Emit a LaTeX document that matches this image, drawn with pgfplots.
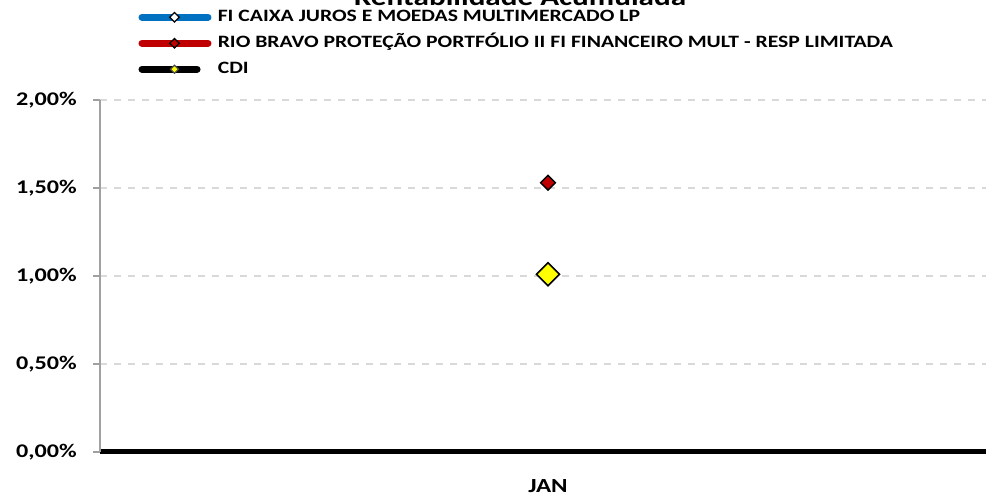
\documentclass[border=0pt]{standalone}
\usepackage{fontspec}
\setmainfont{Carlito}[FakeStretch=1.25]
\usepackage{pgfplots}
\pgfplotsset{compat=1.18}
\definecolor{exblue}{RGB}{0,112,192}
\definecolor{exred}{RGB}{192,0,0}
\definecolor{exyellow}{RGB}{255,255,0}
\definecolor{gridgray}{RGB}{217,217,217}
\definecolor{axgray}{RGB}{160,160,160}
\pgfplotsset{
  legimg/.style n args={5}{legend image code/.code={
    \path (0pt,0pt) (59.25pt,0pt);
    \draw[line width=5.25pt, line cap=round, color=#1] (2.6pt,0pt) -- (#2,0pt);
    \draw[black, line width=0.9pt] plot[mark=square*, mark size=#4, mark options={rotate=45, fill=#3, draw=#5, line width=0.9pt}] coordinates {(27pt,0pt)};
  }}
}
\begin{document}
\begin{tikzpicture}
\begin{axis}[
  at={(0pt,0pt)}, anchor=south west,
  scale only axis,
  width=672pt, height=264pt,
  xmin=0.5, xmax=1.5, ymin=0, ymax=2,
  clip=false,
  axis x line*=bottom, axis y line*=left,
  x axis line style={black, line width=3.75pt},
  y axis line style={axgray, line width=1.1pt},
  xtick={1}, xticklabels={JAN},
  major x tick style={draw=none},
  extra x ticks={0.5,1.5}, extra x tick labels={},
  extra x tick style={major tick length=6.4pt, tick style={black, line width=4.5pt}},
  x tick label style={anchor=base, yshift=-25pt, font=\bfseries\fontsize{15pt}{18pt}\selectfont},
  ytick={0,0.5,1,1.5,2},
  yticklabels={{0,00\%},{0,50\%},{1,00\%},{1,50\%},{2,00\%}},
  ytick pos=left,
  tick align=outside,
  major y tick style={axgray, line width=1.1pt},
  major tick length=5.25pt,
  y tick label style={anchor=east, inner sep=0pt, xshift=-12pt, font=\bfseries\fontsize{14.5pt}{17pt}\selectfont},
  ymajorgrids,
  major grid style={gridgray, line width=1.5pt, dash pattern=on 5.25pt off 5.25pt},
  title={Rentabilidade Acumulada},
  title style={at={(axis description cs:0.46875,1)}, anchor=base, yshift=65pt, inner sep=0pt, font=\bfseries\fontsize{18.7pt}{22pt}\selectfont},
  legend style={draw=none, fill=none, at={(axis description cs:0,1)}, anchor=north west,
    xshift=28.5pt, yshift=68.75pt, inner sep=0pt, row sep=6.5pt,
    nodes={inner sep=0pt, text height=10pt, text depth=3pt},
    font=\bfseries\fontsize{13pt}{15pt}\selectfont},
  legend cell align=left,
]
\addlegendimage{legimg={exblue}{52.1pt}{white}{2.5pt}{black}}
\addlegendentry{FI CAIXA JUROS E MOEDAS MULTIMERCADO LP}
\addplot[color=exred, only marks, mark=square*, mark size=3.9pt,
  mark options={rotate=45, fill=exred, draw=black, line width=1.1pt},
  legimg={exred}{52.1pt}{exred}{2.5pt}{black}]
  coordinates {(1,1.53)};
\addlegendentry{RIO BRAVO PROTEÇÃO PORTFÓLIO II FI FINANCEIRO MULT - RESP LIMITADA}
\addplot[color=black, only marks, mark=square*, mark size=6.1pt,
  mark options={rotate=45, fill=exyellow, draw=black, line width=1.1pt},
  legimg={black}{43.9pt}{exyellow}{2.1pt}{black!70}]
  coordinates {(1,1.01)};
\addlegendentry{CDI}
\end{axis}
\pgfresetboundingbox
\useasboundingbox (-75pt,-34.5pt) rectangle (664.5pt,339pt);
\end{tikzpicture}
\end{document}
